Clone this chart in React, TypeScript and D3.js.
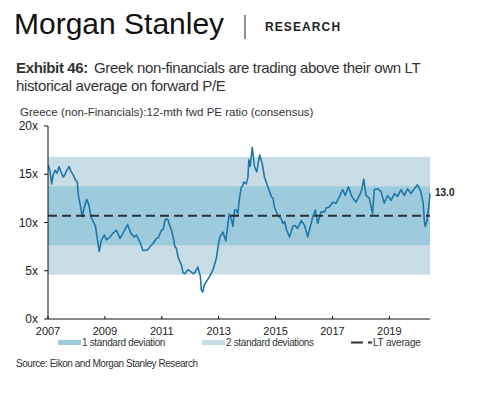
import * as d3 from "d3";

// 12-mth fwd PE, Greece non-financials
const peYears = [
  2007.01, 2007.07, 2007.13, 2007.18, 2007.25, 2007.32, 2007.39, 2007.46, 2007.54, 2007.6,
  2007.66, 2007.74, 2007.81, 2007.89, 2007.97, 2008.03, 2008.06, 2008.12, 2008.16, 2008.2,
  2008.27, 2008.36, 2008.44, 2008.51, 2008.59, 2008.67, 2008.74, 2008.8, 2008.88, 2008.98,
  2009.06, 2009.18, 2009.29, 2009.41, 2009.53, 2009.64, 2009.8, 2009.91, 2010.03, 2010.11,
  2010.23, 2010.34, 2010.4, 2010.52, 2010.58, 2010.69, 2010.81, 2010.87, 2010.99, 2011.05,
  2011.11, 2011.16, 2011.22, 2011.28, 2011.34, 2011.4, 2011.46, 2011.52, 2011.57, 2011.63,
  2011.69, 2011.75, 2011.81, 2011.92, 2011.98, 2012.1, 2012.16, 2012.27, 2012.33, 2012.36,
  2012.39, 2012.44, 2012.49, 2012.57, 2012.68, 2012.8, 2012.92, 2012.98, 2013.04, 2013.15,
  2013.25, 2013.33, 2013.37, 2013.45, 2013.5, 2013.56, 2013.62, 2013.67, 2013.74, 2013.8,
  2013.85, 2013.88, 2013.97, 2014.03, 2014.06, 2014.11, 2014.18, 2014.26, 2014.34, 2014.44,
  2014.53, 2014.61, 2014.73, 2014.85, 2014.91, 2014.96, 2015.08, 2015.2, 2015.26, 2015.32,
  2015.39, 2015.49, 2015.61, 2015.67, 2015.78, 2015.9, 2016.02, 2016.13, 2016.25, 2016.31,
  2016.4, 2016.48, 2016.6, 2016.72, 2016.78, 2016.89, 2017.01, 2017.13, 2017.25, 2017.36,
  2017.45, 2017.56, 2017.68, 2017.83, 2017.95, 2018.03, 2018.1, 2018.18, 2018.3, 2018.41,
  2018.47, 2018.59, 2018.71, 2018.82, 2018.94, 2019.06, 2019.18, 2019.29, 2019.41, 2019.53,
  2019.64, 2019.76, 2019.88, 2019.99, 2020.11, 2020.19, 2020.23, 2020.26, 2020.32, 2020.4,
  2020.43,
];

const peValues = [
  15.9, 15.3, 14.0, 14.9, 15.4, 15.1, 15.8, 15.2, 14.7, 15.0,
  15.4, 15.8, 15.3, 14.9, 14.4, 14.2, 13.0, 12.0, 11.4, 10.6,
  11.5, 12.4, 11.8, 10.6, 10.1, 9.6, 8.2, 7.0, 8.2, 8.7,
  8.2, 8.5, 8.9, 9.2, 8.35, 8.9, 9.8, 8.9, 8.5, 8.7,
  8.0, 7.1, 7.1, 7.2, 7.5, 7.8, 8.35, 8.4, 9.2, 9.3,
  10.2, 10.4, 10.25, 9.7, 9.2, 8.5, 7.5, 7.3, 6.45, 6.0,
  5.6, 4.8, 4.7, 5.1, 5.0, 4.7, 4.8, 5.4, 4.7, 4.4,
  3.0, 2.8, 3.5, 3.9, 4.4, 5.1, 6.3, 7.5, 8.5, 9.0,
  8.1, 9.9, 10.9, 10.3, 9.6, 11.3, 11.3, 10.9, 12.7, 13.7,
  13.8, 14.2, 14.0, 14.7, 16.5, 15.8, 17.8, 15.8, 15.25, 17.0,
  16.1, 14.7, 13.7, 12.7, 12.5, 11.6, 10.7, 10.4, 9.9, 10.1,
  9.2, 8.5, 9.6, 9.7, 9.4, 10.2, 9.7, 8.5, 9.9, 10.6,
  11.3, 9.9, 11.1, 11.1, 11.5, 11.6, 12.1, 12.0, 12.7, 13.4,
  12.8, 13.7, 12.7, 12.1, 12.8, 13.4, 14.5, 12.8, 12.5, 10.9,
  13.4, 13.5, 13.2, 12.0, 12.8, 12.3, 13.0, 12.7, 13.4, 12.8,
  13.5, 13.0, 13.5, 13.9, 13.2, 12.0, 10.25, 9.6, 10.1, 12.0,
  13.0,
];

const ltAverage = 10.7;
const stdDev = 3.05;
const yTickValues = [0, 5, 10, 15, 20];
const xTickYears = [2007, 2009, 2011, 2013, 2015, 2017, 2019];

const width = 491;
const height = 395;

const lineColor = "#1f77a8";
const band1Color = "#9dcbdd";
const band2Color = "#c8dce6";
const avgColor = "#263238";
const font = "'Liberation Sans', Arial, sans-serif";

export default function App() {
  const endYear = peYears[peYears.length - 1];
  const x = d3.scaleLinear().domain([2007, endYear]).range([48, 430]);
  const y = d3.scaleLinear().domain([0, 20]).range([319, 126]);

  const line = d3
    .line<number>()
    .x((_, i) => x(peYears[i]))
    .y((d) => y(d));

  const lastValue = peValues[peValues.length - 1];

  return (
    <div>
      <style>{"body{margin:0}"}</style>
      <svg width={width} height={height} style={{ display: "block", background: "#fff" }} fontFamily={font}>
        {/* header */}
        <text x={14} y={34} fontSize={30} fill="#111" letterSpacing={0}>Morgan Stanley</text>
        <line x1={245} y1={15} x2={245} y2={39} stroke="#222" strokeWidth={1} />
        <text x={265} y={31} fontSize={12} fontWeight="bold" letterSpacing={1.1} fill="#222">RESEARCH</text>

        <text x={16} y={73} fontSize={15} fill="#333" letterSpacing={-0.35}>
          <tspan fontWeight="bold">Exhibit 46:</tspan>
          <tspan dx={6}>Greek non-financials are trading above their own LT</tspan>
        </text>
        <text x={16} y={91} fontSize={15} fill="#333" letterSpacing={-0.35}>historical average on forward P/E</text>

        <text x={20} y={116} fontSize={11.5} fill="#333">Greece (non-Financials):12-mth fwd PE ratio (consensus)</text>

        {/* std dev bands */}
        <rect
          x={x(2007)}
          y={y(ltAverage + 2 * stdDev)}
          width={x(endYear) - x(2007)}
          height={y(ltAverage - 2 * stdDev) - y(ltAverage + 2 * stdDev)}
          fill={band2Color}
        />
        <rect
          x={x(2007)}
          y={y(ltAverage + stdDev)}
          width={x(endYear) - x(2007)}
          height={y(ltAverage - stdDev) - y(ltAverage + stdDev)}
          fill={band1Color}
        />

        <path d={line(peValues) ?? ""} fill="none" stroke={lineColor} strokeWidth={1.6} strokeLinejoin="round" />

        <line
          x1={x(2007)}
          x2={x(endYear)}
          y1={y(ltAverage)}
          y2={y(ltAverage)}
          stroke={avgColor}
          strokeWidth={2}
          strokeDasharray="9 5"
        />

        <text x={x(endYear) + 5} y={y(lastValue) + 2} fontSize={10} fontWeight="bold" fill="#222">
          {lastValue.toFixed(1)}
        </text>

        {/* axes */}
        <line x1={48} y1={y(20)} x2={48} y2={y(0)} stroke="#111" />
        {yTickValues.map((t) => (
          <g key={`y-${t}`} transform={`translate(48, ${y(t)})`}>
            <line x1={0} x2={-4} stroke="#111" />
            <text x={-10} dy="0.35em" textAnchor="end" fontSize={12} fill="#222">{t}x</text>
          </g>
        ))}

        <line x1={48} y1={y(0)} x2={x(endYear)} y2={y(0)} stroke="#111" />
        {xTickYears.map((t) => (
          <g key={`x-${t}`} transform={`translate(${x(t)}, ${y(0)})`}>
            <line y1={0} y2={-3} stroke="#111" />
            <text y={16} textAnchor="middle" fontSize={11} fill="#222">{t}</text>
          </g>
        ))}

        {/* legend */}
        <rect x={58} y={340} width={23} height={5} fill={band1Color} />
        <text x={82} y={346} fontSize={10} letterSpacing={-0.35} fill="#333">1 standard deviation</text>
        <rect x={202} y={340} width={23} height={5} fill={band2Color} />
        <text x={226} y={346} fontSize={10} letterSpacing={-0.35} fill="#333">2 standard deviations</text>
        <line x1={351} x2={363} y1={342.5} y2={342.5} stroke={avgColor} strokeWidth={2} />
        <line x1={368} x2={372} y1={342.5} y2={342.5} stroke={avgColor} strokeWidth={2} />
        <text x={373} y={346} fontSize={10} letterSpacing={-0.2} fill="#333">LT average</text>

        <text x={16} y={367} fontSize={10} letterSpacing={-0.45} fill="#333">Source: Eikon and Morgan Stanley Research</text>
      </svg>
    </div>
  );
}
